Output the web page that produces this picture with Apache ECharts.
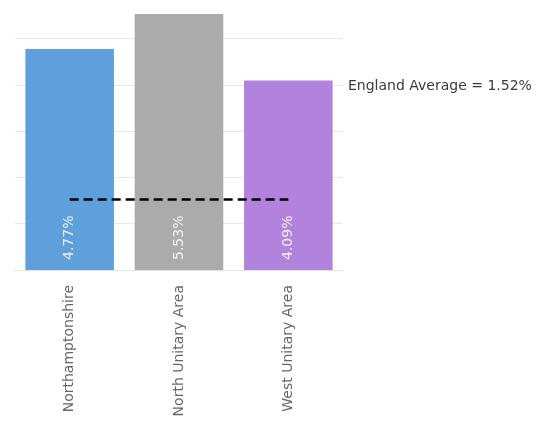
<!DOCTYPE html>
<html>
<head>
<meta charset="utf-8">
<script src="https://cdn.jsdelivr.net/npm/echarts@6/dist/echarts.min.js"></script>
<style>
html,body{margin:0;padding:0;background:#fff;}
#chart{width:538px;height:421px;}
</style>
</head>
<body>
<div id="chart"></div>
<script>
const categories = ["Northamptonshire", "North Unitary Area", "West Unitary Area"];
const values = [4.77, 5.53, 4.09];
const barColors = ["#5fa0dc", "#ababab", "#b283dd"];
const englandAverage = 1.52;
const averageLabel = "England Average = " + englandAverage.toFixed(2) + "%";

const chart = echarts.init(document.getElementById('chart'), null, {renderer: 'canvas'});
chart.setOption({
  animation: false,
  backgroundColor: '#fff',
  grid: {left: 15, right: 195, top: 0, bottom: 151, containLabel: false},
  xAxis: {
    type: 'category',
    data: categories,
    axisLine: {show: true, lineStyle: {color: '#e3e3e3', width: 1}},
    axisTick: {show: false},
    axisLabel: {
      rotate: 90, margin: 15, color: '#666666',
      fontFamily: 'DejaVu Sans', fontSize: 14
    }
  },
  yAxis: {
    type: 'value', min: 0, max: 5.83, interval: 1,
    axisLabel: {show: false},
    axisLine: {show: false},
    axisTick: {show: false},
    splitLine: {showMaxLine: false, lineStyle: {color: '#e8e8e8', width: 1}}
  },
  series: [{
    type: 'bar',
    barWidth: '81%',
    data: values.map((v, i) => ({value: v, itemStyle: {color: barColors[i]}})),
    label: {
      show: true,
      position: 'insideBottom',
      rotate: 90,
      align: 'left',
      verticalAlign: 'middle',
      distance: 13,
      offset: [-3, 0],
      color: 'rgba(255,255,255,0.85)',
      fontFamily: 'DejaVu Sans',
      fontSize: 14,
      formatter: p => p.value.toFixed(2) + '%'
    },
    markLine: {
      silent: true,
      symbol: ['none', 'none'],
      label: {show: false},
      lineStyle: {color: '#000', type: [9, 5], width: 2.5},
      data: [[{coord: [0, englandAverage]}, {coord: [2, englandAverage]}]]
    }
  }],
  graphic: [{
    type: 'text',
    left: 348,
    top: 79,
    style: {
      text: averageLabel,
      fill: '#3a3a3a',
      font: '14px "DejaVu Sans"'
    }
  }]
});
</script>
</body>
</html>
